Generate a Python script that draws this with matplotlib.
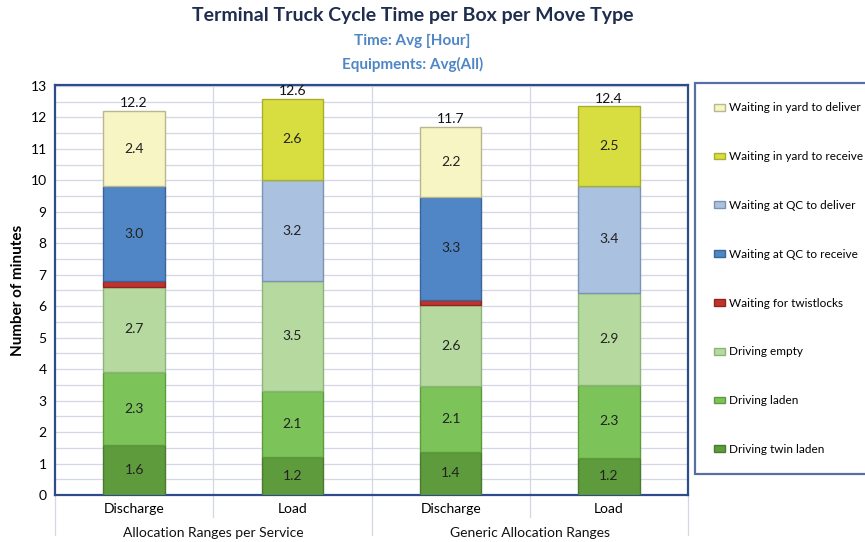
import matplotlib
matplotlib.use("Agg")
import matplotlib.pyplot as plt
from matplotlib.lines import Line2D
from matplotlib.patches import Patch
import numpy as np

plt.rcParams['font.family'] = ['Lato', 'DejaVu Sans']

categories = ["Discharge", "Load", "Discharge", "Load"]
groups = ["Allocation Ranges per Service", "Generic Allocation Ranges"]

driving_twin_laden = [1.58, 1.2, 1.38, 1.18]
driving_laden = [2.33, 2.1, 2.08, 2.32]
driving_empty = [2.7, 3.5, 2.57, 2.92]
waiting_twistlocks = [0.2, 0.0, 0.17, 0.0]
waiting_qc_receive = [3.0, 0.0, 3.28, 0.0]
waiting_qc_deliver = [0.0, 3.2, 0.0, 3.4]
waiting_yard_receive = [0.0, 2.6, 0.0, 2.54]
waiting_yard_deliver = [2.4, 0.0, 2.22, 0.0]
totals = [12.2, 12.6, 11.7, 12.4]

series = [
    ("Driving twin laden", driving_twin_laden, "#5E9B3D", "#4A7A30", True),
    ("Driving laden", driving_laden, "#7CC35A", "#5E9B3D", True),
    ("Driving empty", driving_empty, "#B5D99E", "#8DB57A", True),
    ("Waiting for twistlocks", waiting_twistlocks, "#C0322B", "#8E2520", False),
    ("Waiting at QC to receive", waiting_qc_receive, "#5186C6", "#3A659A", True),
    ("Waiting at QC to deliver", waiting_qc_deliver, "#AAC1DF", "#7E93B3", True),
    ("Waiting in yard to receive", waiting_yard_receive, "#D8DE40", "#A9AE2E", True),
    ("Waiting in yard to deliver", waiting_yard_deliver, "#F7F5C4", "#B9B78E", True),
]

fig = plt.figure(figsize=(8.65, 5.42), dpi=100)
ax = fig.add_axes([55/865, 1-495/542, 633/865, (495-85)/542])

x = np.arange(len(categories))
bottom = np.zeros(len(categories))
handles = []
for name, vals, fc, ec, lab in series:
    vals = np.array(vals)
    mask = vals > 0
    ax.bar(x[mask], vals[mask], bottom=bottom[mask], width=0.39, color=fc,
           edgecolor=ec, linewidth=1.0, zorder=3)
    if lab:
        for xi, v, b in zip(x, vals, bottom):
            if v > 0:
                ax.text(xi, b + v/2, f"{v:.1f}", ha="center", va="center",
                        fontsize=10, color="#222222", zorder=4)
    bottom = bottom + vals
    handles.append(Patch(facecolor=fc, edgecolor=ec, label=name))

for xi, t, b in zip(x, totals, bottom):
    ax.text(xi, b + 0.05, f"{t:.1f}", ha="center", va="bottom", fontsize=10,
            color="#111111", zorder=4)

ax.set_xlim(-0.5, 3.5)
ax.set_ylim(0, 13.03)
ax.set_yticks(np.arange(0, 14, 1))
ax.set_yticks(np.arange(0.5, 13, 1), minor=True)
ax.tick_params(axis='y', which='both', length=0, labelsize=10, pad=6)
ax.set_xticks(x)
ax.set_xticklabels(categories, fontsize=10)
ax.tick_params(axis='x', length=0, pad=6)
ax.grid(axis='y', which='both', color="#D3D7E6", linewidth=0.9, zorder=0)
for xb in [0.5, 1.5, 2.5]:
    ax.axvline(xb, color="#D3D7E6", linewidth=0.9, zorder=0)
for sp in ax.spines.values():
    sp.set_color("#2E4B8C")
    sp.set_linewidth(1.6)

# group separators and labels below
for xb, ybot in [(-0.5, -40/410*13.03), (0.5, -22/410*13.03), (1.5, -40/410*13.03),
                 (2.5, -22/410*13.03), (3.5, -40/410*13.03)]:
    ax.add_line(Line2D([xb, xb], [0, ybot], color="#D3D7E6", linewidth=0.9,
                       clip_on=False))
for gi, g in enumerate(groups):
    ax.text(gi*2 + 0.5, -38/410*13.03, g, ha="center", va="center", fontsize=10,
            color="#111111")

ax.set_ylabel("Number of minutes", fontsize=11, fontweight="bold", labelpad=4)

fig.text(0.5 - 20/865, 1-16/542, "Terminal Truck Cycle Time per Box per Move Type",
         ha="center", va="center", fontsize=14, fontweight="bold", color="#1F2D4E")
fig.text(0.5 - 20/865, 1-41/542, "Time: Avg [Hour]", ha="center", va="center",
         fontsize=11, fontweight="bold", color="#4F86C6")
fig.text(0.5 - 20/865, 1-64/542, "Equipments: Avg(All)", ha="center", va="center",
         fontsize=11, fontweight="bold", color="#4F86C6")

leg = fig.legend(handles=handles[::-1], loc="upper left",
                 bbox_to_anchor=(695/865, 1-83/542), fontsize=8.5,
                 frameon=True, fancybox=False, handlelength=0.9, handleheight=0.5,
                 handletextpad=0.35, labelspacing=3.2, borderpad=1.65,
                 borderaxespad=0)
leg.get_frame().set_edgecolor("#2E4B8C")
leg.get_frame().set_linewidth(1.6)

fig.savefig("out.png", dpi=100)
